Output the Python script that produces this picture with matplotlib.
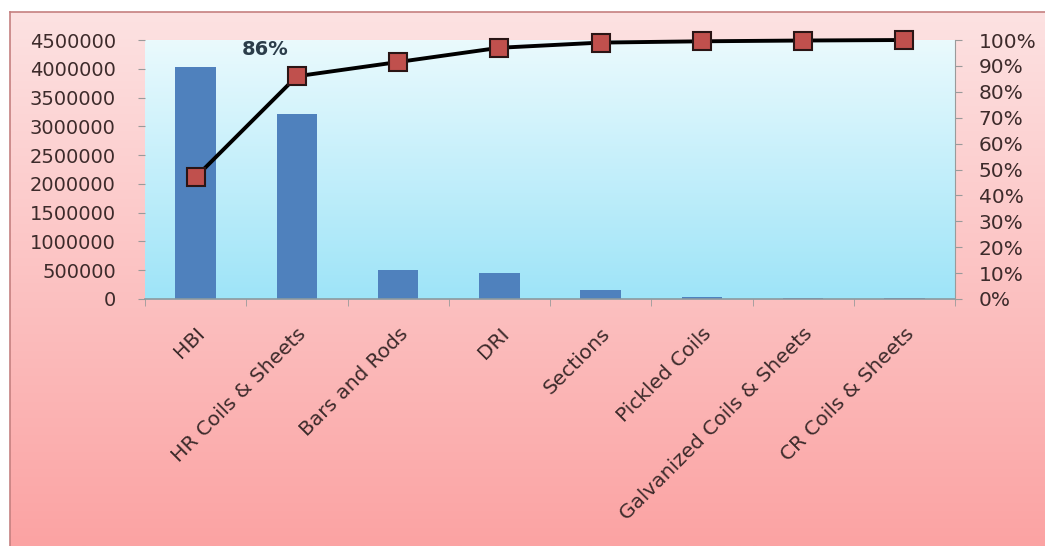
import numpy as np
import matplotlib
matplotlib.use("Agg")
import matplotlib.pyplot as plt
from matplotlib.ticker import MultipleLocator, PercentFormatter, StrMethodFormatter
from matplotlib.colors import LinearSegmentedColormap

categories = ["HBI", "HR Coils & Sheets", "Bars and Rods", "DRI", "Sections",
              "Pickled Coils", "Galvanized Coils & Sheets", "CR Coils & Sheets"]
quantity = [4030000, 3220000, 500000, 450000, 160000, 35000, 25000, 20000]
cum_pct = [47, 86, 91.5, 97, 99, 99.5, 99.8, 100]

plt.rcParams['font.family'] = ['DejaVu Sans']
txt = "#3d2b2b"

fig = plt.figure(figsize=(10.45, 5.46), dpi=100)

# outer pink frame, vertical gradient
bg = fig.add_axes([10/1045, 0, 1 - 10/1045, 1 - 12/546])
grad = np.linspace(0, 1, 256).reshape(-1, 1)
pink = LinearSegmentedColormap.from_list("pink", ["#fde2e2", "#fba3a3"])
bg.imshow(grad, aspect="auto", cmap=pink, extent=[0, 1, 0, 1], origin="upper")
bg.set_xticks([]); bg.set_yticks([])
for s in bg.spines.values():
    s.set_color("#c58080")
    s.set_linewidth(1.2)
bg.spines["bottom"].set_visible(False)
bg.spines["right"].set_visible(False)

ax = fig.add_axes([145/1045, 1 - 299/546, 810/1045, 259/546])
blue = LinearSegmentedColormap.from_list("blue", ["#eafafd", "#9ee4f8"])
ax.imshow(grad, aspect="auto", cmap=blue, extent=[0, 1, 0, 1], origin="upper",
          transform=ax.transAxes, zorder=0)

x = np.arange(len(categories))
ax.bar(x, quantity, width=0.4, color="#4f81bd", zorder=2)
ax.set_xlim(-0.5, len(categories) - 0.5)
ax.set_ylim(0, 4500000)
ax.yaxis.set_major_locator(MultipleLocator(500000))
ax.yaxis.set_major_formatter(StrMethodFormatter("{x:.0f}"))
ax.set_xticks(x)
ax.set_xticklabels(categories, rotation=45, ha="right", rotation_mode="anchor",
                   fontsize=14.5, color=txt)
ax.set_xticks(np.arange(-0.5, len(categories)), minor=True)
ax.tick_params(axis="x", which="major", length=0, pad=18)
ax.tick_params(axis="x", which="minor", length=5, color="#9a9a9a")
ax.tick_params(axis="y", length=5, color="#9a9a9a", labelsize=14, labelcolor=txt, pad=16)
for s in ["top", "right", "left"]:
    ax.spines[s].set_visible(False)
ax.spines["bottom"].set_color("#8a9aa0")
ax.spines["bottom"].set_linewidth(1.2)

ax2 = ax.twinx()
ax2.plot(x, cum_pct, color="black", linewidth=2.8, marker="s", markersize=13,
         markerfacecolor="#c0504d", markeredgecolor="#2a1515", markeredgewidth=1.5,
         zorder=5, clip_on=False)
ax2.set_ylim(0, 100)
ax2.yaxis.set_major_locator(MultipleLocator(10))
ax2.yaxis.set_major_formatter(PercentFormatter(decimals=0))
ax2.tick_params(axis="y", length=5, color="#9a9a9a", labelsize=14.5, labelcolor=txt, pad=12)
for s in ["top", "left", "bottom"]:
    ax2.spines[s].set_visible(False)
ax2.spines["right"].set_color("#9a9a9a")
ax2.annotate(f"{cum_pct[1]:.0f}%", (x[1], cum_pct[1]), xytext=(-23, 19),
             textcoords="offset points", ha="center", va="center",
             fontsize=14, fontweight="bold", color="#2b3d4a")

fig.savefig("out.png", dpi=100)
